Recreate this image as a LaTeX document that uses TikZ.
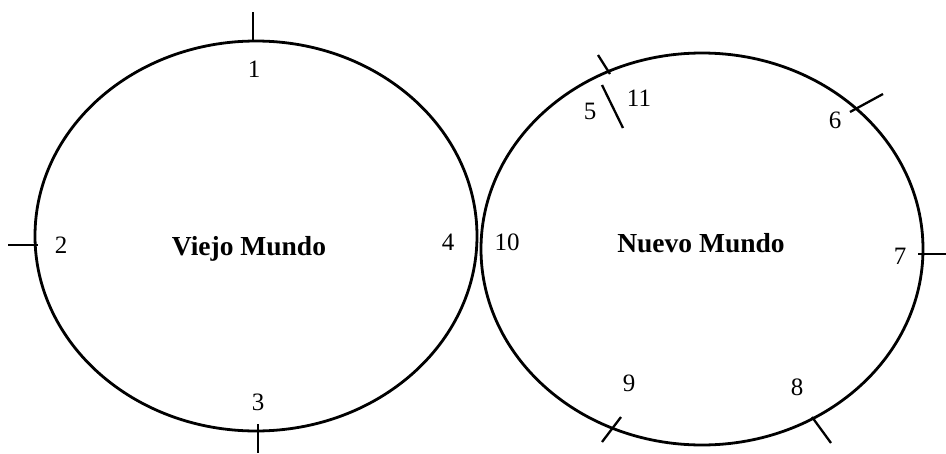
\documentclass[tikz,border=0pt]{standalone}
\usepackage{fontspec}
\setmainfont{Liberation Serif}
\usetikzlibrary{positioning}
\tikzset{
  world/.style={line width=2.8pt, draw=black},
  tickline/.style={line width=2.3pt, draw=black},
  num/.style={font=\fontsize{25}{28}\selectfont, inner sep=0pt},
  worldname/.style={font=\fontsize{27.5}{31}\selectfont\bfseries, inner sep=0pt}
}

\begin{document}
\begin{tikzpicture}[x=1pt,y=-1pt]
    \useasboundingbox (0,0) rectangle (946,453);
    % the two worlds
    \draw[world] (256,236) ellipse [x radius=221, y radius=195];
    \draw[world] (702,249) ellipse [x radius=221, y radius=196];
    \node[worldname] (viejo) at (249,249) {Viejo Mundo};
    \node[worldname] (nuevo) at (701,243) {Nuevo Mundo};
    % ticks
    \draw[tickline] (253,12) -- (253,42);
    \draw[tickline] (8,245) -- (38,245);
    \draw[tickline] (258,424) -- (258,453);
    \draw[tickline] (598,55) -- (610,74);
    \draw[tickline] (602,85) -- (623,128);
    \draw[tickline] (850,112) -- (883,94);
    \draw[tickline] (918,254) -- (946,254);
    \draw[tickline] (812,417) -- (831,443);
    \draw[tickline] (602,442) -- (621,417);
    % numbers
    \node[num] (n1) at (254,69) {1};
    \node[num] (n2) at (61,245) {2};
    \node[num] (n3) at (258,402) {3};
    \node[num] (n4) at (448,242) {4};
    \node[num] (n10) at (507,242) {10};
    \node[num] (n5) at (590,111) {5};
    \node[num] (n11) at (639,98) {11};
    \node[num] (n6) at (835,120) {6};
    \node[num] (n7) at (900,256) {7};
    \node[num] (n8) at (797,387) {8};
    \node[num] (n9) at (629,383) {9};
\end{tikzpicture}
\end{document}
